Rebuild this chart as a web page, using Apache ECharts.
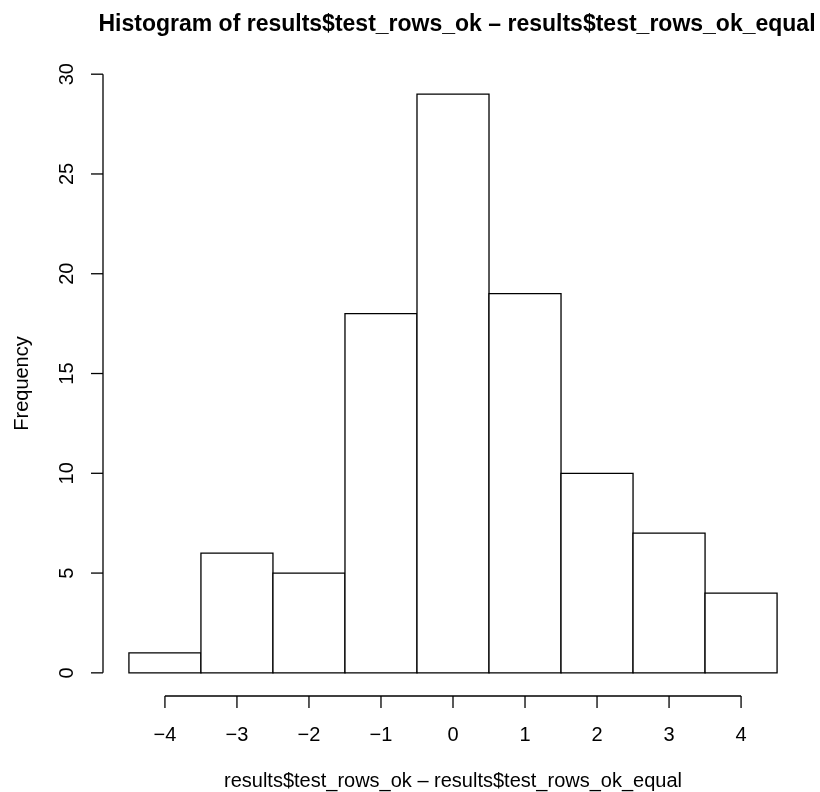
<!DOCTYPE html>
<html>
<head>
<meta charset="utf-8">
<script src="https://cdn.jsdelivr.net/npm/echarts@6/dist/echarts.min.js"></script>
<style>
  html, body { margin: 0; padding: 0; background: #ffffff; }
  #chart { width: 820px; height: 792px; }
</style>
</head>
<body>
<div id="chart"></div>
<script>
// Histogram bins (unit width, centred on integers) and their counts
var binStarts = [-4.5, -3.5, -2.5, -1.5, -0.5, 0.5, 1.5, 2.5, 3.5];
var binEnds   = [-3.5, -2.5, -1.5, -0.5, 0.5, 1.5, 2.5, 3.5, 4.5];
var counts    = [1, 6, 5, 18, 29, 19, 10, 7, 4];

// Tick positions for both axes
var xTicks = [-4, -3, -2, -1, 0, 1, 2, 3, 4];
var yTicks = [0, 5, 10, 15, 20, 25, 30];

var titleText = 'Histogram of results$test_rows_ok \u2013 results$test_rows_ok_equal';
var xName = 'results$test_rows_ok \u2013 results$test_rows_ok_equal';
var yName = 'Frequency';

// Data range padded by 4% on each side, as in base R plots
var xLo = binStarts[0], xHi = binEnds[binEnds.length - 1];
var yLo = 0, yHi = Math.max.apply(null, counts);
var xPad = (xHi - xLo) * 0.04, yPad = (yHi - yLo) * 0.04;

var FONT = '"Liberation Sans", Arial, Helvetica, sans-serif';
var TICK_LEN = 12;

var barData = counts.map(function (c, i) { return [binStarts[i], binEnds[i], c]; });

var chart = echarts.init(document.getElementById('chart'), null, { renderer: 'canvas' });

chart.setOption({
  backgroundColor: '#ffffff',
  animation: false,
  title: {
    text: titleText,
    left: 452,
    textAlign: 'center',
    top: 8,
    textStyle: { fontFamily: FONT, fontSize: 23, fontWeight: 'bold', color: '#000' }
  },
  grid: { left: 103, right: 17, top: 71, bottom: 96, containLabel: false, outerBoundsMode: 'none' },
  xAxis: {
    type: 'value',
    min: xLo - xPad,
    max: xHi + xPad,
    name: xName,
    nameLocation: 'middle',
    nameGap: 75,
    nameTextStyle: { fontFamily: FONT, fontSize: 20, color: '#000' },
    axisLine: { show: false },
    splitLine: { show: false },
    axisTick: { show: false },
    axisLabel: { show: true, customValues: xTicks, margin: 29, fontFamily: FONT, fontSize: 20, color: '#000',
      formatter: function (v) { return String(v).replace('-', '\u2212'); } }
  },
  yAxis: {
    type: 'value',
    min: yLo - yPad,
    max: yHi + yPad,
    name: yName,
    nameLocation: 'middle',
    nameGap: 71,
    nameRotate: 90,
    nameTextStyle: { fontFamily: FONT, fontSize: 20, color: '#000' },
    axisLine: { show: false },
    splitLine: { show: false },
    axisTick: { show: false },
    axisLabel: { show: true, customValues: yTicks, rotate: 90, margin: 26, fontFamily: FONT, fontSize: 20, color: '#000' }
  },
  series: [
    {
      // histogram bars
      type: 'custom',
      clip: false,
      data: barData,
      renderItem: function (params, api) {
        var p0 = api.coord([api.value(0), 0]);
        var p1 = api.coord([api.value(1), api.value(2)]);
        return {
          type: 'rect',
          shape: { x: p0[0], y: p1[1], width: p1[0] - p0[0], height: p0[1] - p1[1] },
          style: { fill: '#ffffff', stroke: '#000000', lineWidth: 1.3 }
        };
      }
    },
    {
      // detached axis lines spanning the first to the last tick, with outward ticks
      type: 'custom',
      clip: false,
      data: [[0]],
      renderItem: function (params, api) {
        var yBase = yLo - yPad, xBase = xLo - xPad;
        var stroke = { stroke: '#000', lineWidth: 1.3 };
        var kids = [];
        var xa = api.coord([xTicks[0], yBase]);
        var xb = api.coord([xTicks[xTicks.length - 1], yBase]);
        kids.push({ type: 'line', shape: { x1: xa[0], y1: xa[1], x2: xb[0], y2: xb[1] }, style: stroke });
        xTicks.forEach(function (t) {
          var p = api.coord([t, yBase]);
          kids.push({ type: 'line', shape: { x1: p[0], y1: p[1], x2: p[0], y2: p[1] + TICK_LEN }, style: stroke });
        });
        var ya = api.coord([xBase, yTicks[0]]);
        var yb = api.coord([xBase, yTicks[yTicks.length - 1]]);
        kids.push({ type: 'line', shape: { x1: ya[0], y1: ya[1], x2: yb[0], y2: yb[1] }, style: stroke });
        yTicks.forEach(function (t) {
          var p = api.coord([xBase, t]);
          kids.push({ type: 'line', shape: { x1: p[0], y1: p[1], x2: p[0] - TICK_LEN, y2: p[1] }, style: stroke });
        });
        return { type: 'group', children: kids };
      }
    }
  ]
});
</script>
</body>
</html>
